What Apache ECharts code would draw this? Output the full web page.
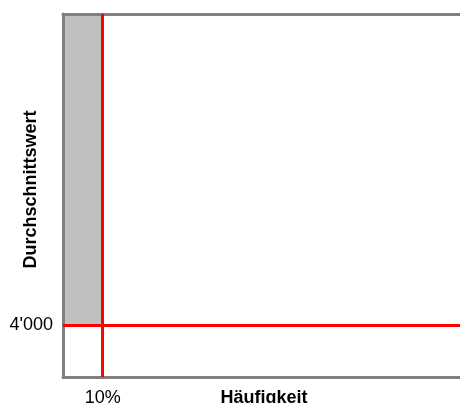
<!DOCTYPE html>
<html>
<head>
<meta charset="utf-8">
<script src="https://cdn.jsdelivr.net/npm/echarts@6/dist/echarts.min.js"></script>
<style>html,body{margin:0;padding:0;background:#fff}#c{width:460px;height:403px}</style>
</head>
<body>
<div id="c"></div>
<script>
// Data
var xTitle = 'Häufigkeit';
var yTitle = 'Durchschnittswert';
var xThreshold = 10;          // percent
var yThreshold = 4000;        // average value
var xTickValues = [10];
var xTickLabels = ['10%'];
var yTickValues = [4000];
var yTickLabels = ["4'000"];
var xRange = [0, 100];
var yRange = [3000, 10000];

function labelFor(values, labels) {
  return function (v) {
    var i = values.indexOf(v);
    return i >= 0 ? labels[i] : '';
  };
}

var chart = echarts.init(document.getElementById('c'), null, {renderer: 'canvas'});
var axisColor = '#808080';
chart.setOption({
  animation: false,
  grid: {left: 63, right: 0, top: 14, bottom: 26, containLabel: false, outerBoundsMode: 'none'},
  xAxis: [{
    type: 'value', min: xRange[0], max: xRange[1], interval: 10, z: 1,
    name: xTitle, nameLocation: 'middle', nameGap: 12, nameMoveOverlap: false,
    nameTextStyle: {fontFamily: 'Liberation Sans', fontSize: 18, fontWeight: 'bold', color: '#000', verticalAlign: 'top', padding: [0, 0, 0, 5]},
    axisLine: {show: true, lineStyle: {color: axisColor, width: 3}},
    axisTick: {show: false}, splitLine: {show: false},
    axisLabel: {margin: 12, fontFamily: 'Liberation Sans', fontSize: 18, color: '#000',
      formatter: labelFor(xTickValues, xTickLabels)}
  }, {
    type: 'value', position: 'top', min: xRange[0], max: xRange[1], z: 1,
    axisLine: {show: true, onZero: false, lineStyle: {color: axisColor, width: 3}},
    axisTick: {show: false}, splitLine: {show: false}, axisLabel: {show: false}
  }],
  yAxis: {
    type: 'value', min: yRange[0], max: yRange[1], interval: 1000, z: 1,
    name: yTitle, nameLocation: 'middle', nameGap: 23, nameMoveOverlap: false,
    nameTextStyle: {fontFamily: 'Liberation Sans', fontSize: 18, fontWeight: 'bold', color: '#000', padding: [0, 0, 0, 12]},
    axisLine: {show: true, onZero: false, lineStyle: {color: axisColor, width: 3}},
    axisTick: {show: false}, splitLine: {show: false},
    axisLabel: {margin: 10, fontFamily: 'Liberation Sans', fontSize: 18, color: '#000',
      formatter: labelFor(yTickValues, yTickLabels)}
  },
  series: [{
    type: 'scatter', data: [], xAxisIndex: 0, yAxisIndex: 0, z: 0,
    markArea: {
      silent: true,
      itemStyle: {color: '#c0c0c0'},
      data: [[{xAxis: xRange[0], yAxis: yThreshold}, {xAxis: xThreshold, yAxis: yRange[1]}]]
    }
  }, {
    type: 'scatter', data: [], xAxisIndex: 0, yAxisIndex: 0, z: 5,
    markLine: {
      silent: true, symbol: ['none', 'none'],
      label: {show: false},
      lineStyle: {color: '#ff0000', width: 3, type: 'solid'},
      data: [{xAxis: xThreshold}, {yAxis: yThreshold}]
    }
  }]
});
</script>
</body>
</html>
